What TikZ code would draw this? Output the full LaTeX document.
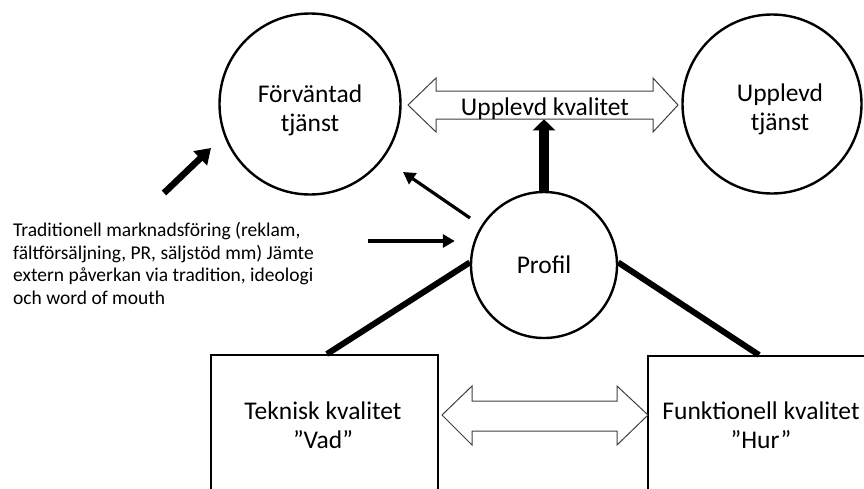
\documentclass[tikz,border=0pt]{standalone}
\usepackage{fontspec}
\setmainfont{Carlito}
\usetikzlibrary{arrows.meta,calc}

\begin{document}
\begin{tikzpicture}[x=1pt,y=-1pt,
  bubble/.style={circle,draw,line width=2.4pt,inner sep=0pt},
  frame/.style={rectangle,draw,line width=2.4pt,inner sep=0pt},
  big/.style={font=\fontsize{25.5}{29}\selectfont,align=center,inner sep=0pt},
  small/.style={font=\fontsize{19.5}{22.7}\selectfont,align=left,inner sep=0pt},
  hollow/.style={draw=black!75,line width=1pt,fill=white,line join=miter},
  link/.style={line width=6pt},
  boldarrow/.style={line width=6.5pt,-{Triangle[length=15pt,width=19pt]}},
  thinarrow/.style={line width=3.2pt,-{Triangle[length=12pt,width=13pt]}},
  uparrow/.style={line width=10pt,-{Triangle[length=11pt,width=22pt]}}
]
\useasboundingbox (0,0) rectangle (864,488);
\clip (0,0) rectangle (864,488);

% expected and perceived service
\node[bubble,minimum size=181pt] (fv) at (310,104) {};
\node[big] (fvt) at (310,110) {Förväntad\\tjänst};
\node[bubble,minimum size=179pt] (up) at (772,104) {};
\node[big] (upt) at (780,109) {Upplevd\\tjänst};

% perceived quality, a hollow double arrow between the two circles
\draw[hollow] (408,105) -- (436,78) -- (436,91) -- (653,91) -- (653,78)
  -- (678,105) -- (653,132) -- (653,119) -- (436,119) -- (436,132) -- cycle;
\node[big,anchor=base] (uk) at (545,115) {Upplevd kvalitet};

% profile
\node[bubble,big,minimum size=146pt] (pr) at (544,265) {Profil};

% technical and functional quality
\node[frame,anchor=north west,minimum width=227pt,minimum height=200pt] (tek) at (210,354) {};
\node[frame,anchor=north west,minimum width=300pt,minimum height=200pt] (fun) at (647,355) {};
\node[big] (tekt) at (323,425) {Teknisk kvalitet\\”Vad”};
\node[big] (funt) at (761,425) {Funktionell kvalitet\\”Hur”};

\draw[hollow] (442,415) -- (472,386) -- (472,401) -- (617,401) -- (617,386)
  -- (648,415) -- (617,445) -- (617,431) -- (472,431) -- (472,445) -- cycle;

% links from the profile
\draw[link] (pr.178) -- ($(tek.north west)+(117,0)$);
\draw[link] (pr.2) -- ($(fun.north west)+(112,0)$);
\draw[uparrow] (pr.north) -- (pr.north |- uk.south);

% marketing influence
\node[small,anchor=north west] (mk) at (13,222)
  {Traditionell marknadsföring (reklam,\\fältförsäljning, PR, säljstöd mm) Jämte\\extern påverkan via tradition, ideologi\\och word of mouth};

\coordinate (b0) at (164,193);
\coordinate (b1) at (211,148);
\draw[boldarrow] (b0) -- (b1);

\coordinate (p0) at (470,218);
\coordinate (p1) at (403,172);
\draw[thinarrow] (p0) -- (p1);

\coordinate (m0) at (368,241);
\draw[thinarrow] (m0) -- ($(m0 -| pr.west)+(-15,0)$);
\end{tikzpicture}
\end{document}
